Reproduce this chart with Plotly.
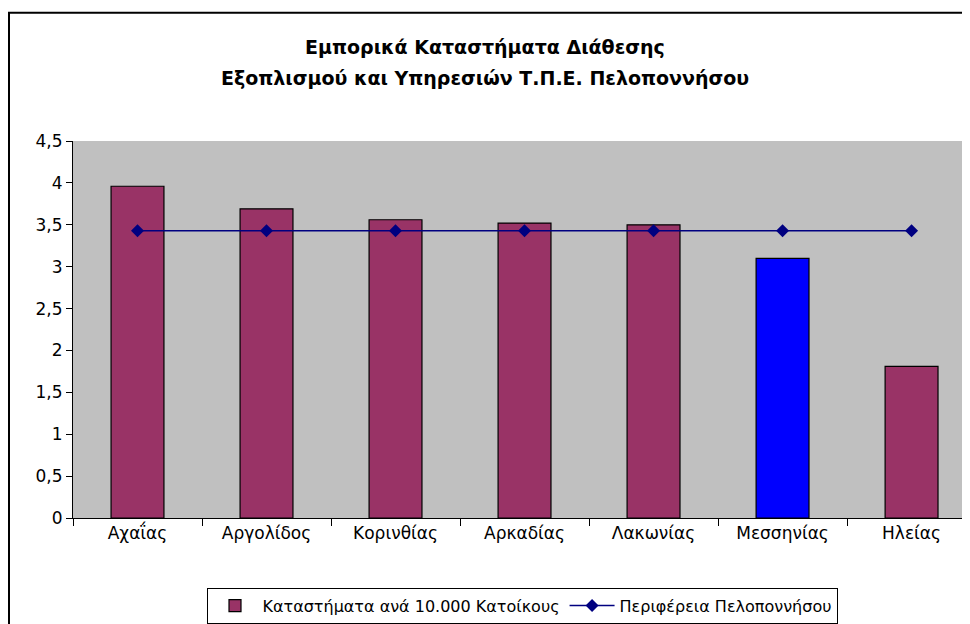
import plotly.graph_objects as go

categories = ["Αχαΐας", "Αργολίδος", "Κορινθίας", "Αρκαδίας", "Λακωνίας", "Μεσσηνίας", "Ηλείας"]
stores_per_10k = [3.96, 3.69, 3.56, 3.52, 3.50, 3.10, 1.81]
region_avg = [3.43, 3.43, 3.43, 3.43, 3.43, 3.43, 3.43]
bar_colors = ["#993366", "#993366", "#993366", "#993366", "#993366", "#0000FF", "#993366"]
y_tickvals = [0, 0.5, 1, 1.5, 2, 2.5, 3, 3.5, 4, 4.5]
y_ticktext = ["0", "0,5", "1", "1,5", "2", "2,5", "3", "3,5", "4", "4,5"]
title_lines = ["Εμπορικά Καταστήματα Διάθεσης", "Εξοπλισμού και Υπηρεσιών Τ.Π.Ε. Πελοποννήσου"]

FONT = "DejaVu Sans"
W, H = 962, 616
L, T, B = 65, 133, 104
PW, PH = W - L, H - T - B

fig = go.Figure()
fig.add_trace(go.Bar(
    x=categories, y=stores_per_10k,
    name="Καταστήματα ανά 10.000 Κατοίκους",
    marker=dict(color=bar_colors, line=dict(color="black", width=1.2)),
    width=0.41,
))
fig.add_trace(go.Scatter(
    x=categories, y=region_avg,
    name="Περιφέρεια Πελοποννήσου",
    mode="lines+markers",
    line=dict(color="#000080", width=1.5),
    marker=dict(symbol="diamond", size=10, color="#000080"),
))

fig.update_layout(
    width=W, height=H,
    margin=dict(l=L, r=0, t=T, b=B),
    paper_bgcolor="white",
    plot_bgcolor="#C0C0C0",
    font=dict(family=FONT, size=17, color="black"),
    showlegend=True,
    legend=dict(
        orientation="h",
        x=(522 - 8 - L) / PW, xanchor="center",
        y=-(590 - 8 - (H - B)) / PH, yanchor="top",
        bordercolor="black", borderwidth=1,
        bgcolor="white",
        font=dict(family=FONT, size=16),
        traceorder="normal",
        itemwidth=45,
    ),
    xaxis=dict(
        range=[-0.5, 6.453],
        showline=True, linecolor="black", linewidth=1,
        ticks="outside", ticklen=7, tickcolor="black",
        tickson="boundaries",
        showgrid=False, zeroline=False,
        tickfont=dict(size=17),
    ),
    yaxis=dict(
        range=[0, 4.5],
        tickvals=y_tickvals, ticktext=y_ticktext,
        showline=True, linecolor="black", linewidth=1,
        ticks="outside", ticklen=6, tickcolor="black",
        showgrid=False, zeroline=False,
        tickfont=dict(size=17),
    ),
)

for i, (txt, ypix) in enumerate(zip(title_lines, [39, 70])):
    fig.add_annotation(
        text="<b>" + txt + "</b>", showarrow=False,
        xref="paper", yref="paper",
        x=(477 - L) / PW, xanchor="center",
        y=(H - B - ypix) / PH, yanchor="middle",
        font=dict(family=FONT, size=19, color="black"),
    )

# outer chart frame
fig.add_shape(type="rect", xref="paper", yref="paper",
              x0=(1 - L) / PW, x1=1.2, y0=-0.5, y1=(H - B - 4) / PH,
              line=dict(color="black", width=2), fillcolor="rgba(0,0,0,0)", layer="below")

fig.write_html("out.html")
